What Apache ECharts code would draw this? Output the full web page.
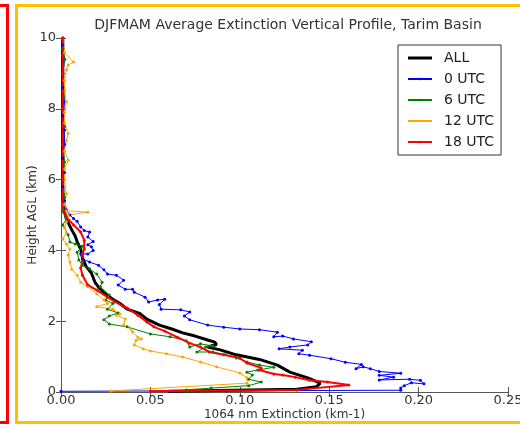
<!DOCTYPE html>
<html>
<head>
<meta charset="utf-8">
<script src="https://cdn.jsdelivr.net/npm/echarts@6/dist/echarts.min.js"></script>
<style>html,body{margin:0;padding:0;background:#fff}#c{width:520px;height:425px}</style>
</head>
<body>
<div id="c"></div>
<script>
// [extinction (km-1), height (km)]
const seriesNames = ['ALL', '0 UTC', '6 UTC', '12 UTC', '18 UTC'];
const xTicks = [0, 0.05, 0.10, 0.15, 0.20, 0.25];
const yTicks = [0, 2, 4, 6, 8, 10];

const allProfile = [
  [0.060,0.02],[0.132,0.08],[0.143,0.15],[0.145,0.25],[0.138,0.40],[0.128,0.56],[0.121,0.76],[0.111,0.92],
  [0.098,1.05],[0.089,1.19],[0.082,1.27],[0.087,1.34],[0.086,1.41],[0.082,1.47],[0.075,1.58],[0.068,1.67],
  [0.062,1.78],[0.055,1.89],[0.048,2.06],[0.044,2.22],[0.037,2.34],[0.033,2.50],[0.029,2.62],[0.024,2.80],
  [0.021,2.96],[0.019,3.10],[0.017,3.36],[0.014,3.55],[0.012,3.79],[0.011,4.04],[0.009,4.25],[0.008,4.40],
  [0.006,4.58],[0.003,4.89],[0.002,5.08],[0.001,5.5],[0.001,6.0],[0.001,7.0],[0.001,8.0],[0.001,9.0],[0.001,10.0]
];

const utc0 = [
  [0.000,0.02],[0.190,0.05],[0.190,0.11],[0.192,0.18],[0.196,0.26],[0.203,0.23],[0.201,0.33],[0.195,0.36],
  [0.178,0.34],[0.186,0.42],[0.178,0.47],[0.190,0.53],[0.178,0.58],[0.173,0.66],[0.169,0.71],[0.165,0.66],
  [0.168,0.78],[0.159,0.84],[0.151,0.94],[0.139,1.04],[0.133,1.08],[0.135,1.18],[0.122,1.22],[0.128,1.27],
  [0.138,1.33],[0.140,1.42],[0.130,1.50],[0.124,1.58],[0.119,1.56],[0.121,1.69],[0.111,1.76],[0.100,1.78],
  [0.091,1.83],[0.082,1.89],[0.072,2.04],[0.069,2.15],[0.072,2.26],[0.067,2.32],[0.056,2.34],[0.055,2.47],
  [0.058,2.62],[0.054,2.60],[0.049,2.54],[0.047,2.68],[0.041,2.82],[0.040,2.90],[0.036,2.90],[0.032,3.02],
  [0.035,3.16],[0.031,3.30],[0.026,3.33],[0.024,3.45],[0.021,3.58],[0.016,3.67],[0.012,3.76],[0.011,3.90],
  [0.015,3.90],[0.018,4.00],[0.017,4.10],[0.015,4.16],[0.018,4.25],[0.015,4.38],[0.016,4.52],[0.013,4.56],
  [0.011,4.66],[0.009,4.82],[0.007,4.90],[0.005,5.00],[0.003,5.15],[0.002,5.4],[0.001,5.8],[0.002,6.2],
  [0.001,6.6],[0.002,7.0],[0.002,7.4],[0.001,7.8],[0.002,8.2],[0.001,8.6],[0.001,9.0],[0.002,9.4],
  [0.001,9.8],[0.001,10.0]
];

const utc6 = [
  [0.070,0.06],[0.084,0.11],[0.105,0.18],[0.112,0.28],[0.105,0.36],[0.107,0.48],[0.104,0.56],[0.110,0.62],
  [0.119,0.70],[0.111,0.76],[0.104,0.85],[0.098,0.96],[0.092,1.05],[0.085,1.13],[0.076,1.13],[0.081,1.27],
  [0.085,1.30],[0.078,1.36],[0.072,1.27],[0.070,1.45],[0.061,1.56],[0.050,1.64],[0.037,1.84],[0.027,1.92],
  [0.024,2.04],[0.027,2.15],[0.032,2.23],[0.026,2.34],[0.029,2.50],[0.025,2.60],[0.027,2.74],[0.022,2.97],
  [0.023,3.10],[0.020,3.33],[0.016,3.48],[0.012,3.58],[0.010,3.73],[0.009,3.95],[0.012,4.12],[0.008,4.18],
  [0.005,4.24],[0.004,4.44],[0.001,4.72],[0.003,4.89],[0.001,5.1],[0.002,5.5],[0.001,6.0],[0.002,6.5],
  [0.001,7.0],[0.002,7.5],[0.001,8.0],[0.002,8.5],[0.001,9.0],[0.002,9.4],[0.001,9.7],[0.001,10.0]
];

const utc12 = [
  [0.028,0.03],[0.104,0.25],[0.104,0.40],[0.100,0.54],[0.087,0.71],[0.078,0.85],[0.068,0.99],[0.059,1.08],
  [0.050,1.16],[0.046,1.22],[0.041,1.33],[0.042,1.46],[0.045,1.50],[0.043,1.55],[0.040,1.70],[0.039,1.78],
  [0.035,1.89],[0.036,2.06],[0.031,2.17],[0.033,2.20],[0.029,2.34],[0.020,2.41],[0.026,2.50],[0.024,2.60],
  [0.020,2.77],[0.015,2.97],[0.011,3.10],[0.009,3.30],[0.006,3.47],[0.005,3.67],[0.004,3.87],[0.005,4.04],
  [0.003,4.18],[0.001,4.32],[0.003,4.50],[0.002,4.65],[0.003,4.80],[0.004,5.00],[0.015,5.08],[0.003,5.12],
  [0.002,5.3],[0.003,5.6],[0.002,6.0],[0.002,6.3],[0.004,6.55],[0.002,6.8],[0.003,7.1],[0.004,7.3],
  [0.002,7.6],[0.002,7.9],[0.003,8.2],[0.002,8.5],[0.002,8.8],[0.003,9.1],[0.004,9.24],[0.007,9.32],
  [0.002,9.58],[0.001,10.0]
];

const utc18 = [
  [0.050,0.02],[0.132,0.06],[0.161,0.20],[0.149,0.28],[0.139,0.33],[0.131,0.42],[0.124,0.48],[0.119,0.51],
  [0.111,0.62],[0.112,0.68],[0.104,0.82],[0.100,0.96],[0.091,1.05],[0.083,1.13],[0.078,1.27],[0.072,1.38],
  [0.065,1.55],[0.058,1.72],[0.052,1.84],[0.048,1.98],[0.043,2.17],[0.037,2.37],[0.030,2.55],[0.026,2.68],
  [0.020,2.88],[0.015,3.02],[0.012,3.30],[0.011,3.50],[0.012,3.67],[0.012,3.90],[0.013,4.04],[0.013,4.29],
  [0.011,4.52],[0.007,4.72],[0.003,4.94],[0.001,5.2],[0.001,5.6],[0.001,6.0],[0.001,6.5],[0.001,7.0],
  [0.001,7.5],[0.001,8.0],[0.001,8.5],[0.001,9.0],[0.001,9.5],[0.001,10.0]
];

const chart = echarts.init(document.getElementById('c'));
const tickColor = '#555';
const labelColor = '#333';
const font = 'DejaVu Sans';

function utcSeries(name, data, color, width) {
  return {
    name, type: 'line', data, color,
    symbol: 'circle', symbolSize: 3, showSymbol: true,
    lineStyle: { width: width, color },
    itemStyle: { color },
    animation: false
  };
}

chart.setOption({
  animation: false,
  backgroundColor: '#fff',
  textStyle: { fontFamily: font },
  title: {
    text: 'DJFMAM Average Extinction Vertical Profile, Tarim Basin',
    left: 283, top: 13, textAlign: 'center',
    textStyle: { fontSize: 14, fontWeight: 'normal', color: labelColor, fontFamily: font }
  },
  grid: { left: 61, right: 12, top: 38, bottom: 33, containLabel: false, outerBoundsMode: 'none' },
  legend: {
    data: [
      { name: 'ALL', icon: 'rect' },
      { name: '0 UTC' }, { name: '6 UTC' }, { name: '12 UTC' }, { name: '18 UTC' }
    ],
    orient: 'vertical',
    left: 398, top: 45,
    padding: [6, 7, 6, 9],
    itemWidth: 24, itemHeight: 3, itemGap: 7,
    backgroundColor: '#fff',
    borderColor: '#333', borderWidth: 1,
    textStyle: { fontSize: 14, color: '#222', fontFamily: font, padding: [0, 0, 0, 7] }
  },
  xAxis: [{
    type: 'value', min: xTicks[0], max: xTicks[xTicks.length - 1], interval: 0.05,
    position: 'bottom',
    name: '1064 nm Extinction (km-1)', nameLocation: 'middle', nameGap: 17, nameMoveOverlap: false,
    nameTextStyle: { fontSize: 12, color: labelColor, fontFamily: font },
    axisLine: { lineStyle: { color: tickColor, width: 1 } },
    axisTick: { inside: true, length: 5, lineStyle: { color: tickColor } },
    axisLabel: { fontSize: 13, color: labelColor, margin: 2, formatter: v => v.toFixed(2) },
    splitLine: { show: false }
  }, {
    type: 'value', min: xTicks[0], max: xTicks[xTicks.length - 1], interval: 0.05,
    position: 'top',
    axisLine: { lineStyle: { color: tickColor, width: 1 } },
    axisTick: { inside: true, length: 5, lineStyle: { color: tickColor } },
    axisLabel: { show: false }, splitLine: { show: false }
  }],
  yAxis: [{
    type: 'value', min: yTicks[0], max: yTicks[yTicks.length - 1], interval: 2,
    position: 'left',
    name: 'Height AGL (km)', nameLocation: 'middle', nameGap: 22, nameMoveOverlap: false,
    nameTextStyle: { fontSize: 12, color: labelColor, fontFamily: font },
    axisLine: { lineStyle: { color: tickColor, width: 1 } },
    axisTick: { inside: true, length: 5, lineStyle: { color: tickColor } },
    axisLabel: { fontSize: 13, color: labelColor, margin: 5 },
    splitLine: { show: false }
  }, {
    type: 'value', min: yTicks[0], max: yTicks[yTicks.length - 1], interval: 2,
    position: 'right',
    axisLine: { lineStyle: { color: tickColor, width: 1 } },
    axisTick: { inside: true, length: 5, lineStyle: { color: tickColor } },
    axisLabel: { show: false }, splitLine: { show: false }
  }],
  series: [
    { name: 'ALL', type: 'line', data: allProfile, symbol: 'none', color: '#000',
      lineStyle: { width: 3, color: '#000' }, itemStyle: { color: '#000' } },
    utcSeries('0 UTC', utc0, '#0000ff', 1),
    utcSeries('6 UTC', utc6, '#008000', 1),
    utcSeries('12 UTC', utc12, '#ffa500', 1),
    utcSeries('18 UTC', utc18, '#ff0000', 2)
  ],
  graphic: [
    { type: 'rect', shape: { x: -20, y: 5.5, width: 27.5, height: 417 },
      style: { fill: 'none', stroke: '#ff0000', lineWidth: 3 }, silent: true },
    { type: 'rect', shape: { x: 16.5, y: 5.5, width: 520, height: 417 },
      style: { fill: 'none', stroke: '#ffc000', lineWidth: 3 }, silent: true }
  ]
});
</script>
</body>
</html>
